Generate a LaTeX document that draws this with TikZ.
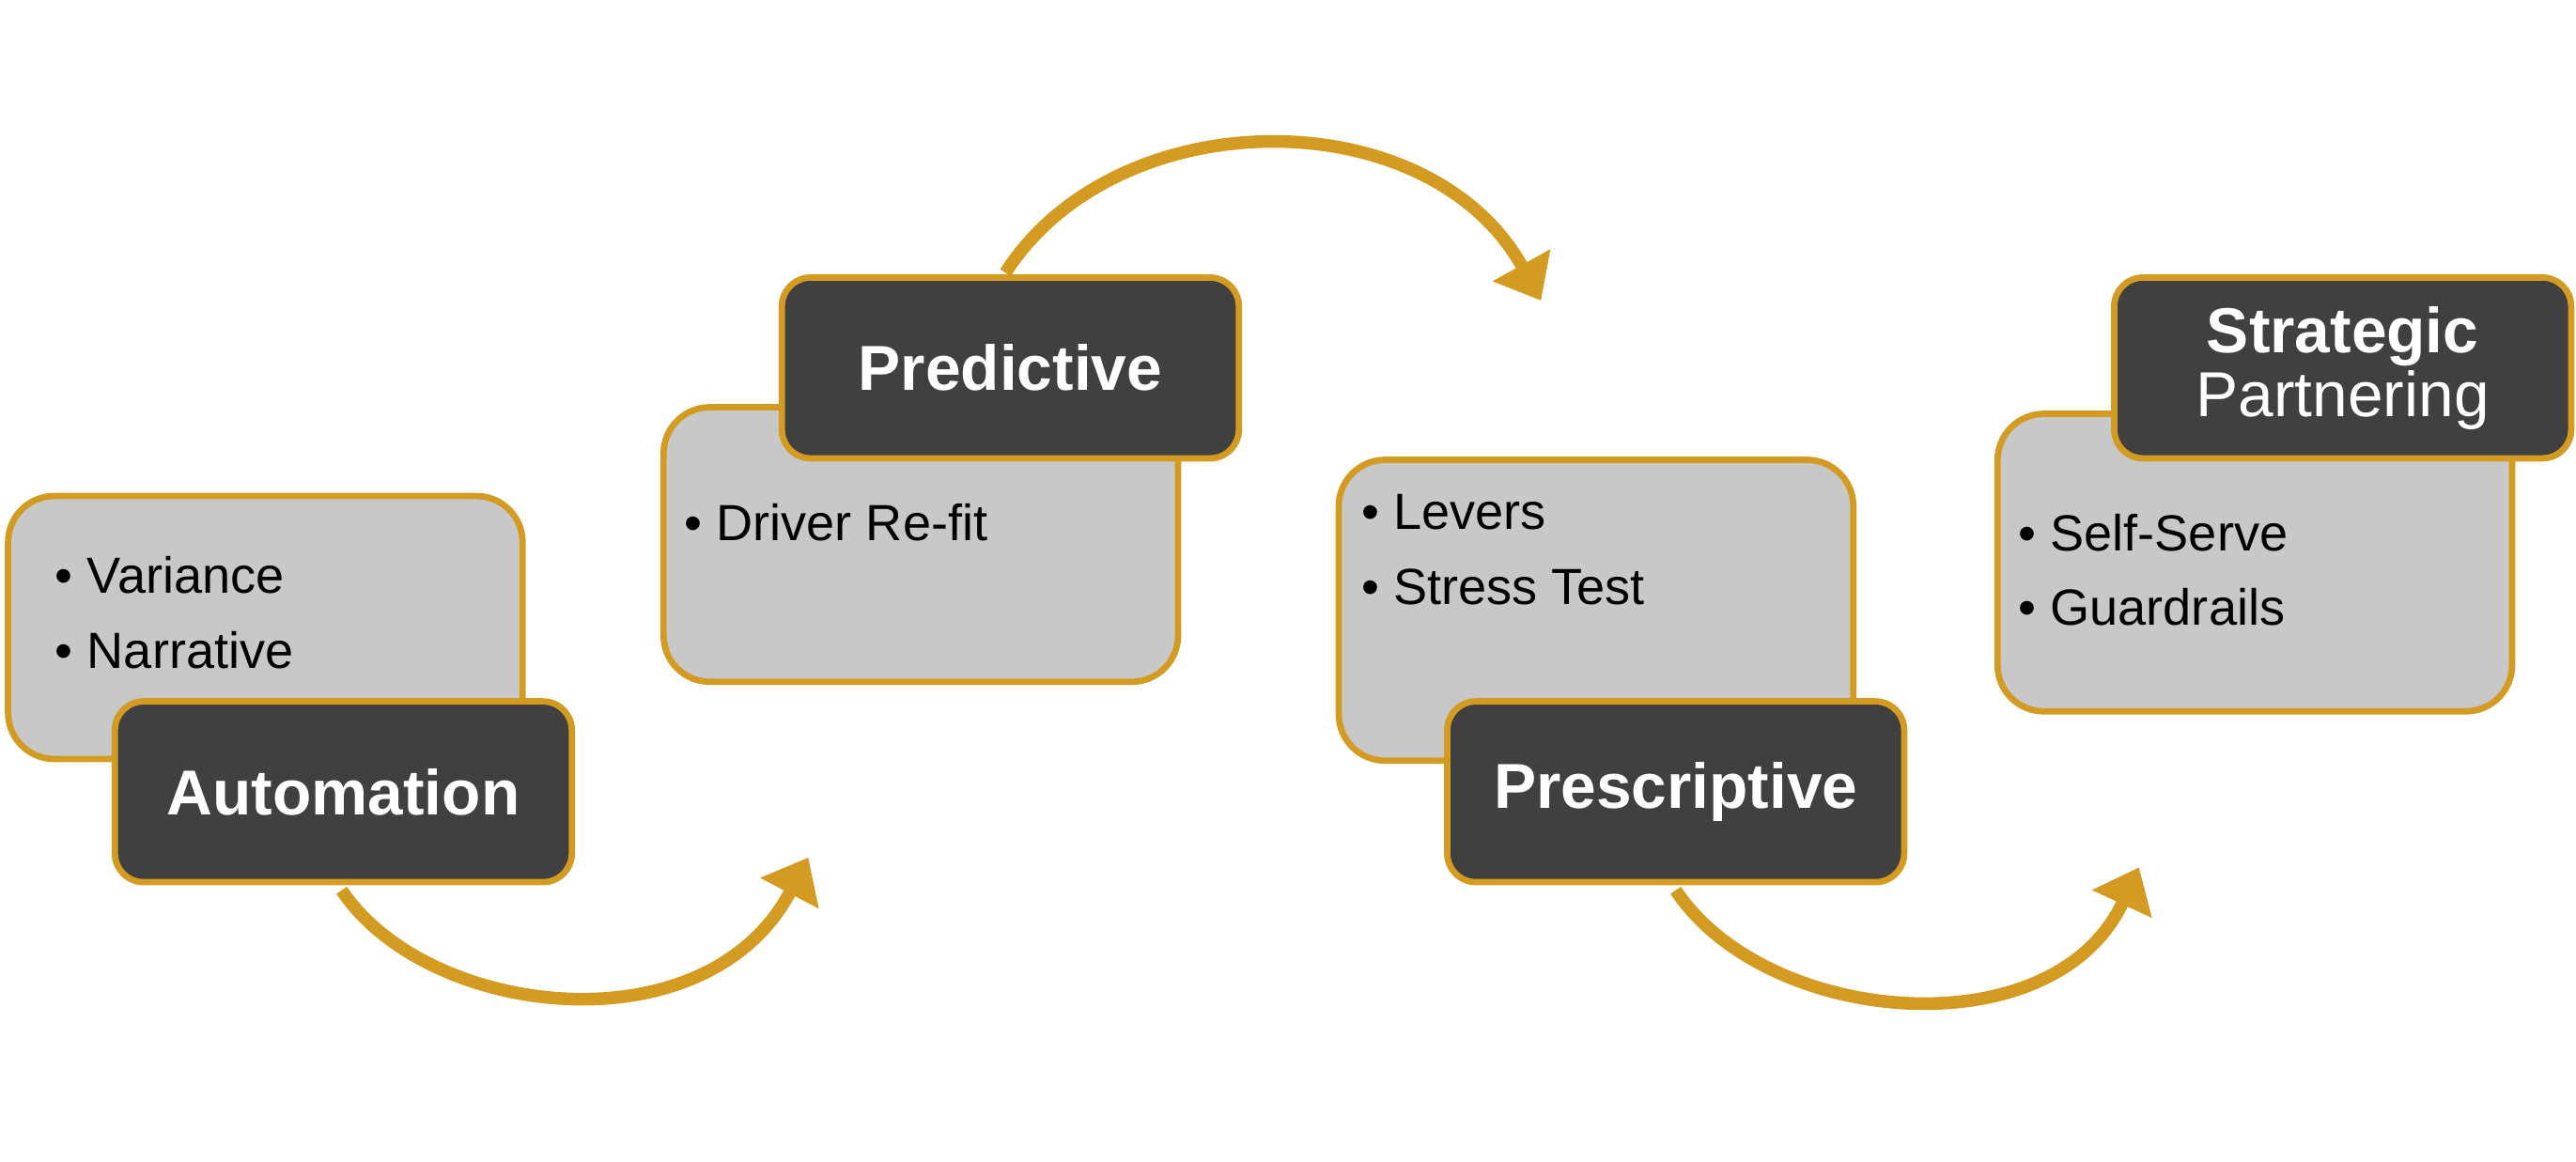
\documentclass[tikz,border=0pt]{standalone}
\usepackage{fontspec}
\setmainfont{Liberation Sans}
\usetikzlibrary{arrows.meta}
\definecolor{gold}{HTML}{D49B22}
\definecolor{panel}{HTML}{C8C8C8}
\definecolor{dark}{HTML}{404040}
\tikzset{
  panel/.style={rectangle, rounded corners=8pt, draw=gold, line width=1.1pt,
    fill=panel, minimum width=3.13cm},
  stage/.style={rectangle, rounded corners=5pt, draw=gold, line width=1.1pt,
    fill=dark, text=white, minimum width=2.78cm, minimum height=1.10cm,
    font=\fontsize{11}{12}\selectfont\bfseries, align=center},
  items/.style={anchor=north west, align=left, inner sep=0pt,
    font=\fontsize{8.8}{13}\selectfont},
  flow/.style={draw=gold, line width=2.2pt,
    -{Triangle[length=7pt, width=11pt]}}
}
\begin{document}
\begin{tikzpicture}[x=0.01cm, y=-0.01cm]
        \useasboundingbox (0,0) rectangle (1568,707);
        % grey panels
        \node (p1) at (161.5,382) [panel, minimum height=1.60cm] {};
        \node (p2) at (560.5,331.5) [panel, minimum height=1.67cm] {};
        \node (p3) at (971.5,371.5) [panel, minimum height=1.83cm] {};
        \node (p4) at (1372.5,342.5) [panel, minimum height=1.81cm] {};
        % bullet lists
        \node (l1) at (33,338) [items] {• Variance\\• Narrative};
        \node (l2) at (416,306) [items] {• Driver Re-fit};
        \node (l3) at (828,300) [items] {• Levers\\• Stress Test};
        \node (l4) at (1228,312) [items] {• Self-Serve\\• Guardrails};
        % stage labels
        \node (automation) at (209,482) [stage] {Automation};
        \node (predictive) at (615,224) [stage] {Predictive};
        \node (prescriptive) at (1020,482) [stage] {Prescriptive};
        \node (strategic) at (1426,224) [stage]
          {Strategic\\[-1pt]{\mdseries Partnering}};
        % arrows
        \coordinate (e1) at (492,522);
        \coordinate (e2) at (938,183);
        \coordinate (e3) at (1302,528);
        \draw [flow] (automation.south) ++(-1,3) .. controls (260,620) and (430,640) .. (e1);
        \draw [flow] (predictive.north) ++(-3,-1) .. controls (680,60) and (870,60) .. (e2);
        \draw [flow] (prescriptive.south) ++(0,3) .. controls (1075,625) and (1250,640) .. (e3);
\end{tikzpicture}
\end{document}
